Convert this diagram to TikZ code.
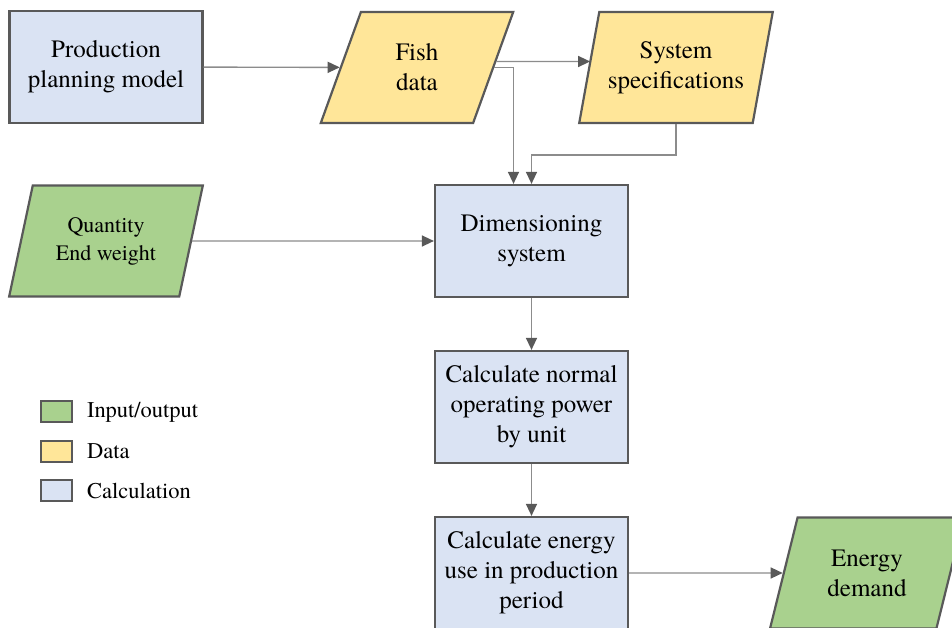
\documentclass[tikz,border=0pt]{standalone}
\usepackage{fontspec}
\setmainfont{texgyretermes}[Extension=.otf, UprightFont=*-regular,
  BoldFont=*-bold, ItalicFont=*-italic, BoldItalicFont=*-bolditalic]
\usetikzlibrary{shapes.geometric,arrows.meta,calc}
\definecolor{calcfill}{HTML}{DAE3F3}
\definecolor{datafill}{HTML}{FFE699}
\definecolor{iofill}{HTML}{A9D18E}
\definecolor{edge}{HTML}{595959}
\definecolor{wire}{HTML}{8C8C8C}
\tikzset{
  base/.style={draw=edge, line width=2.2pt, align=center, inner sep=2pt,
    font=\fontsize{25}{30}\selectfont},
  calcbox/.style={base, rectangle, fill=calcfill,
    minimum width=193pt, minimum height=112pt},
  parabox/.style={base, trapezium, trapezium left angle=72,
    trapezium right angle=108, trapezium stretches=true,
    minimum width=194pt, minimum height=111pt},
  databox/.style={parabox, fill=datafill},
  iobox/.style={parabox, fill=iofill},
  flow/.style={draw=wire, line width=1.4pt,
    -{Triangle[length=12pt,width=11pt,color=edge]}},
  keybox/.style={draw=edge, line width=2pt, minimum width=31pt,
    minimum height=21pt, inner sep=0pt},
  keytext/.style={anchor=west, inner sep=0pt,
    font=\fontsize{22.5}{26}\selectfont},
}
\begin{document}
\begin{tikzpicture}[x=1pt,y=1pt]
\useasboundingbox (0,0) rectangle (952,628);
\fill[white] (0,0) rectangle (952,628);

% process boxes and data / input-output parallelograms
\node[calcbox] (prod) at (106,561) {Production\\planning model};
\node[databox] (fish) at (417,560.5) {Fish\\data};
\node[databox] (sys) at (676,560.5) {System\\specifications};
\node[iobox, font=\fontsize{22}{28}\selectfont] (quant) at (106,387) {Quantity\\End weight};
\node[calcbox] (dim) at (531.5,387) {Dimensioning\\system};
\node[calcbox] (calc1) at (531.5,221) {Calculate normal\\operating power\\by unit};
\node[calcbox] (calc2) at (531.5,55) {Calculate energy\\use in production\\period};
\node[iobox] (energy) at (867,55) {Energy\\demand};

% connectors
\draw[flow] (prod) -- (fish);
\draw[flow] ([xshift=2pt,yshift=6pt]fish.east) -- ([xshift=2pt,yshift=6pt]sys.west);
\draw[flow] (fish.east) -| ([xshift=-18pt]dim.north);
\draw[flow] (sys.south) -- ++(0,-31) -| (dim.north);
\draw[flow] (quant) -- (dim);
\draw[flow] (dim) -- (calc1);
\draw[flow] (calc1) -- (calc2);
\draw[flow] (calc2) -- (energy);

% legend
\node[keybox, fill=iofill] (kio) at (56.5,216) {};
\node[keytext] (tio) at (87,216) {Input/output};
\node[keybox, fill=datafill] (kdata) at (56.5,176.5) {};
\node[keytext] (tdata) at (87,176.5) {Data};
\node[keybox, fill=calcfill] (kcalc) at (56.5,137) {};
\node[keytext] (tcalc) at (87,137) {Calculation};
\end{tikzpicture}
\end{document}
